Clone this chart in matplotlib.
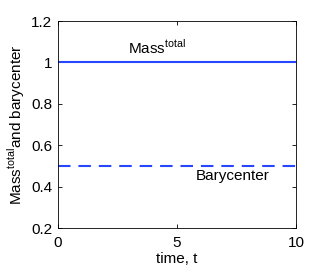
import matplotlib
matplotlib.use("Agg")
import matplotlib.pyplot as plt
import numpy as np

plt.rcParams['font.family'] = ['Liberation Sans', 'DejaVu Sans']
plt.rcParams['mathtext.fontset'] = 'custom'
plt.rcParams['mathtext.rm'] = 'Liberation Sans'

t = [0, 10]
mass_total = [1.0, 1.0]
barycenter = [0.5, 0.5]
xticks = [0, 5, 10]
yticks = [0.2, 0.4, 0.6, 0.8, 1.0, 1.2]
yticklabels = ['0.2', '0.4', '0.6', '0.8', '1', '1.2']

fs = 11
fig = plt.figure(figsize=(3.27, 2.73), dpi=100)
ax = fig.add_axes([58/327, 1-228/273, (296-58)/327, (228-21)/273])
color = '#2846ff'
ax.plot(t, mass_total, '-', color=color, lw=1.5)
ax.plot(t, barycenter, '--', color=color, lw=1.5, dashes=(6, 3.8))
ax.set_xlim(0, 10)
ax.set_ylim(0.2, 1.2)
ax.set_xticks(xticks)
ax.set_xticklabels([str(x) for x in xticks])
ax.set_yticks(yticks)
ax.set_yticklabels(yticklabels)
ax.tick_params(direction='in', top=True, right=True, labelsize=fs, length=3, width=0.6, pad=4)
ax.tick_params(axis='x', pad=6)
for s in ax.spines.values():
    s.set_linewidth(0.6)
ax.text(4.15, 1.04, r'Mass$^{\mathrm{total}}$', ha='center', va='baseline', fontsize=fs)
ax.text(7.35, 0.43, 'Barycenter', ha='center', va='baseline', fontsize=fs)
ax.set_xlabel('time, t', fontsize=fs, labelpad=1)
ax.set_ylabel(r'Mass$^{\mathrm{total}}$and barycenter', fontsize=fs, labelpad=3)
fig.savefig('out.png', dpi=100)
